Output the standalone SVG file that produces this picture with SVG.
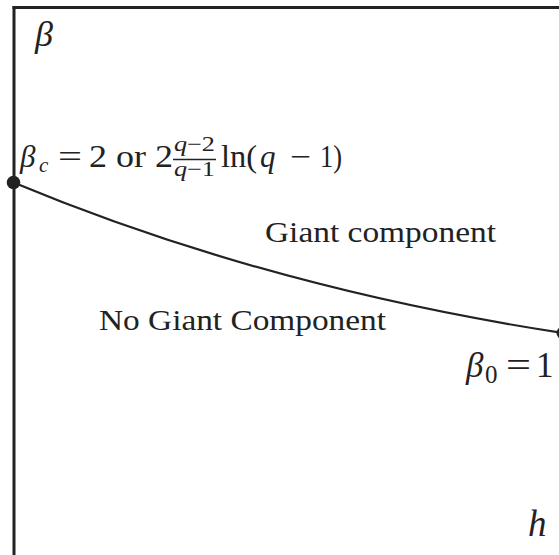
<svg xmlns="http://www.w3.org/2000/svg" width="559" height="555" viewBox="0 0 559 555">
<style>
.t{font-family:"Liberation Serif","Times New Roman",serif;fill:#222}
.i{font-style:italic}
.ax{stroke:#222;stroke-width:3;fill:none}
.cv{stroke:#222;stroke-width:2.2;fill:none}
.dot{fill:#222}
</style>
<rect width="559" height="555" fill="#fff"/>
<g id="axes">
<line class="ax" x1="14" y1="6" x2="14" y2="555"/>
<line class="ax" x1="12.5" y1="7.5" x2="559" y2="7.5"/>
<text class="t i" x="35" y="46" font-size="36">β</text>
<text class="t i" x="528" y="536" font-size="37">h</text>
</g>
<g id="connectors">
<path class="cv" d="M13.5,182.5 C190,256 380,305 563,333"/>
</g>
<g id="node-critical">
<circle class="dot" cx="13.5" cy="182.5" r="6.8"/>
<text class="t i" x="20" y="167" font-size="31">β</text>
<text class="t i" x="39" y="172" font-size="21">c</text>
<text class="t" x="58" y="167" font-size="31" textLength="24" lengthAdjust="spacingAndGlyphs">=</text>
<text class="t" x="89" y="167" font-size="31" textLength="84" lengthAdjust="spacingAndGlyphs">2 or 2</text>
<text class="t" x="174" y="151" font-size="21" textLength="41" lengthAdjust="spacingAndGlyphs"><tspan class="i">q</tspan>−2</text>
<line x1="173" y1="159.5" x2="216" y2="159.5" stroke="#222" stroke-width="1.6"/>
<text class="t" x="174" y="176" font-size="21" textLength="41" lengthAdjust="spacingAndGlyphs"><tspan class="i">q</tspan>−1</text>
<text class="t" x="221" y="167" font-size="31" textLength="36" lengthAdjust="spacingAndGlyphs">ln(</text>
<text class="t i" x="260" y="167" font-size="31">q</text>
<text class="t" x="290" y="167" font-size="31" textLength="21" lengthAdjust="spacingAndGlyphs">−</text>
<text class="t" x="320" y="167" font-size="31" textLength="22" lengthAdjust="spacingAndGlyphs">1)</text>
</g>
<g id="node-end">
<circle class="dot" cx="563" cy="333" r="6.5"/>
<text class="t i" x="466" y="377" font-size="35">β</text>
<text class="t" x="485" y="383" font-size="25">0</text>
<text class="t" x="506" y="377" font-size="35" textLength="25" lengthAdjust="spacingAndGlyphs">=</text>
<text class="t" x="536" y="377" font-size="35">1</text>
</g>
<g id="region-giant">
<text class="t" x="265" y="242" font-size="30" textLength="231" lengthAdjust="spacingAndGlyphs">Giant component</text>
</g>
<g id="region-nogiant">
<text class="t" x="99" y="330" font-size="30" textLength="287" lengthAdjust="spacingAndGlyphs">No Giant Component</text>
</g>
</svg>
